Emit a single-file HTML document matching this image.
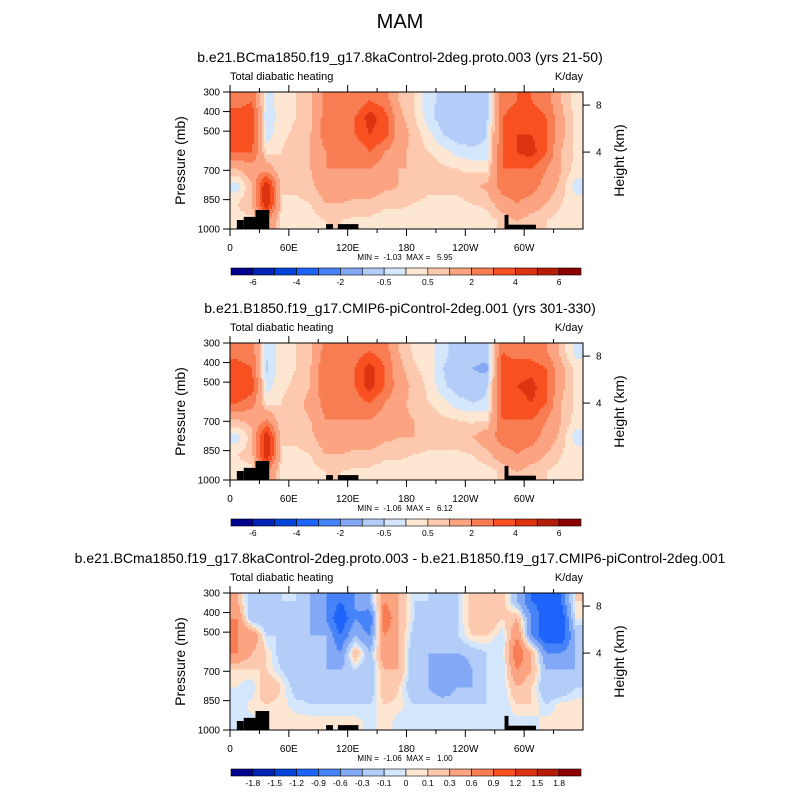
<!DOCTYPE html>
<html><head><meta charset="utf-8"><style>
body{margin:0;background:#fff}
svg{display:block;font-family:"Liberation Sans",sans-serif}
</style></head><body>
<svg id="fig" width="800" height="800" viewBox="0 0 800 800">
<text x="400" y="28" font-size="20" text-anchor="middle">MAM</text>
</svg>
<script>
// ---- data ----
const lonCenters=[7.5,22.5,37.5,52.5,67.5,82.5,97.5,112.5,127.5,142.5,157.5,172.5,187.5,202.5,217.5,232.5,247.5,262.5,277.5,292.5,307.5,322.5,337.5,352.5];
const presCenters=[343.75,431.25,518.75,606.25,693.75,781.25,868.75,956.25];
const levelsAbs=[-6,-5,-4,-3,-2,-1,-0.5,0,0.5,1,2,3,4,5,6];
const labelsAbs=["-6","-4","-2","-0.5","0.5","2","4","6"];
const levelsDiff=[-1.8,-1.5,-1.2,-0.9,-0.6,-0.3,-0.1,0,0.1,0.3,0.6,0.9,1.2,1.5,1.8];
const labelsDiff=["-1.8","-1.5","-1.2","-0.9","-0.6","-0.3","-0.1","0","0.1","0.3","0.6","0.9","1.2","1.5","1.8"];
const xTickVals=[0,60,120,180,240,300];
const xTickLabels=["0","60E","120E","180","120W","60W"];
const pTickVals=[300,400,500,700,850,1000];
const hTickVals=[8,4];
const hTickPres=[367,607];
const field1=[
[2.5,3,-0.3,0.3,0.5,0.8,2.5,2.5,2,3,2.5,1,0.5,-0.3,-0.7,-0.8,-0.8,-0.6,2.5,3,3,2.5,1,0.3],
[3.5,3.5,-0.5,0.3,0.5,0.8,2.5,2,3,4.5,3.5,1.2,0.6,-0.3,-0.8,-0.9,-0.9,-0.6,3,3.5,3.5,3,1.2,0.3],
[4,3.5,-0.3,0.4,0.6,1,2.5,2,3,4,3.5,1.5,0.8,0.2,-0.5,-0.8,-0.8,-0.5,3,4,4,3,1.2,0.4],
[3,3,0.3,0.5,0.7,1,2,2,2,3,2,1.2,0.8,0.5,0.2,-0.2,-0.4,-0.3,3,4,4.5,3,1,0.4],
[1,1.5,1.5,0.5,0.8,1,2,2,2,2,1.5,1,1,0.8,0.6,0.5,0.4,0.3,3,3,3,2,1,0.3],
[-0.3,1,5,0.5,0.6,0.8,1.5,1.5,1.5,1.5,1.2,1,0.8,0.6,0.6,0.6,0.8,1.2,2.5,2.5,2.5,1.5,0.8,-0.3],
[0.5,1,5,0.5,0.4,0.5,1,1,0.8,0.8,0.6,0.6,0.5,0.4,0.4,0.4,0.5,0.6,1.5,2,1.5,1,0.5,0.3],
[0.3,0.3,2,0.4,0.3,0.3,0.5,0.5,0.4,0.4,0.3,0.3,0.3,0.3,0.3,0.3,0.3,0.3,0.6,1,0.6,0.5,0.3,0.3]];
const field2=[
[2.5,2.5,-0.4,0.3,0.5,0.8,2.5,2.5,2.5,3,2.5,1,0.4,0.2,-0.3,-0.8,-0.8,-0.6,3,2.5,2.5,2,0.8,-0.2],
[3.5,3,-0.6,0.3,0.5,1,3,2.5,3,4.5,3,1.2,0.6,0.3,-0.5,-0.9,-1,-1.2,3.5,3.5,3.5,3,1.2,0.3],
[4,3.5,-0.3,0.4,0.6,1,3,2.5,3,4.5,3,1.5,0.8,0.4,-0.4,-0.8,-0.8,-0.6,3.5,4,4.5,3,1.2,0.4],
[3,2.5,0.3,0.5,0.8,1.2,2.5,2.5,2.5,3,2,1.2,0.8,0.5,0.2,-0.3,-0.5,-0.4,3.5,3.5,4,3,1,0.4],
[1,1.2,2,0.5,0.8,1,2,2,2,2,1.5,1.2,1,0.8,0.6,0.5,0.4,0.4,3,3,3,2,1,0.3],
[-0.3,0.8,5,0.5,0.6,0.8,1.5,1.5,1.5,1.5,1.2,1,1,0.8,0.8,0.8,1,1.5,2.5,2.5,2.5,1.5,0.8,-0.3],
[0.5,0.8,5,0.5,0.4,0.5,1,1,0.8,0.8,0.6,0.6,0.5,0.4,0.4,0.4,0.5,0.8,1.5,2,1.5,1,0.5,0.3],
[0.3,0.3,2,0.4,0.3,0.3,0.5,0.5,0.4,0.4,0.3,0.3,0.3,0.3,0.3,0.3,0.3,0.3,0.6,1,0.6,0.5,0.3,0.3]];
const field3=[
[0.3,-0.3,-0.3,-0.1,-0.1,-0.3,-0.6,-0.9,-0.6,-0.3,0.6,0.3,-0.1,-0.1,-0.2,-0.1,0.2,0.3,0.2,-0.3,-0.9,-1.0,-0.9,0.1],
[0.6,-0.3,-0.3,-0.1,-0.2,-0.3,-0.6,-1.2,-0.6,-0.9,0.9,0.3,-0.1,-0.2,-0.2,-0.1,0.2,0.3,0.1,0.3,-0.6,-1.2,-1.2,0],
[0.6,0.6,-0.1,-0.1,-0.2,-0.3,-0.3,-0.9,-0.3,-0.6,0.6,0.3,-0.2,-0.2,-0.3,-0.1,0.1,0.1,-0.1,0.6,-0.6,-1.2,-1.2,-0.3],
[0.6,0.3,0.1,-0.2,-0.3,-0.3,-0.3,-0.6,0.3,-0.3,0.6,0.3,-0.3,-0.3,-0.3,-0.3,-0.2,-0.1,-0.1,0.9,0.3,-0.6,-0.6,-0.3],
[0.1,0.1,0.1,-0.1,-0.3,-0.3,-0.3,-0.3,-0.1,-0.3,0.3,0.3,-0.3,-0.3,-0.6,-0.6,-0.3,-0.1,-0.1,0.6,0.3,-0.3,-0.3,-0.3],
[0,-0.1,0.3,0.1,-0.2,-0.2,-0.3,-0.3,-0.2,-0.3,0.3,0.1,-0.3,-0.3,-0.6,-0.3,-0.3,-0.1,-0.1,0.3,0.1,-0.3,-0.3,-0.1],
[-0.1,0.05,0.1,0.05,-0.05,-0.1,-0.1,-0.1,-0.1,-0.1,0.1,0.05,-0.1,-0.1,-0.1,-0.1,-0.1,-0.1,-0.1,0.1,0.1,-0.1,0.05,0.05],
[-0.05,-0.05,0.05,0.05,0.05,0.05,0.05,0.05,0.05,-0.05,0.05,-0.05,-0.05,-0.05,-0.05,-0.05,-0.05,-0.05,-0.05,-0.05,-0.05,0.05,0.05,0.05]];
// topography: [lonStart, lonEnd, topPressure]
const topoLon0=[7,14,26,98,110,280,284];
const topoLon1=[14,26,40,105,131,284,312];
const topoTop=[954,938,903,975,975,928,978];
const palette=["#00008c","#0024b4","#0044dc","#1e64fa","#4682f8","#82a8f6","#b4ccf8","#d4e6fc","#fde6d2","#fcc8ae","#fca482","#f87d52","#f85020","#dc3410","#b41e08","#8c0000"];
const titles=["b.e21.BCma1850.f19_g17.8kaControl-2deg.proto.003 (yrs 21-50)","b.e21.B1850.f19_g17.CMIP6-piControl-2deg.001 (yrs 301-330)","b.e21.BCma1850.f19_g17.8kaControl-2deg.proto.003 - b.e21.B1850.f19_g17.CMIP6-piControl-2deg.001"];
const minmax=["MIN =  -1.03  MAX =   5.95","MIN =  -1.06  MAX =   6.12","MIN =  -1.06  MAX =   1.00"];

// ---- drawing ----
const NS="http://www.w3.org/2000/svg";
const svg=document.getElementById('fig');
function mk(tag,attrs,parent,txt){const e=document.createElementNS(NS,tag);for(const k in attrs)e.setAttribute(k,attrs[k]);if(txt!==undefined)e.textContent=txt;(parent||svg).appendChild(e);return e;}
const X0=230,X1=583,PH=137;
const xs=lon=>X0+(lon/360)*(X1-X0);
function colorIdx(v,lev){let i=0;while(i<lev.length&&v>=lev[i])i++;return i;}
function sample(f,lon,p){
  let fx=(lon-7.5)/15, fy=(p-343.75)/87.5;
  fx=Math.max(0,Math.min(23,fx)); fy=Math.max(0,Math.min(7,fy));
  const i0=Math.floor(fx),j0=Math.floor(fy),i1=Math.min(23,i0+1),j1=Math.min(7,j0+1);
  const tx=fx-i0,ty=fy-j0;
  return (f[j0][i0]*(1-tx)+f[j0][i1]*tx)*(1-ty)+(f[j1][i0]*(1-tx)+f[j1][i1]*tx)*ty;
}
const panels=[{f:field1,lev:levelsAbs,lab:labelsAbs,y0:92,tY:62},{f:field2,lev:levelsAbs,lab:labelsAbs,y0:343,tY:313},{f:field3,lev:levelsDiff,lab:labelsDiff,y0:593,tY:563}];
panels.forEach((P,pi)=>{
  const g=mk('g',{});
  
  
  const ys=p=>P.y0+(p-300)/700*PH;
  mk('text',{x:400,y:P.tY,'font-size':14,'text-anchor':'middle',},g,titles[pi]);
  mk('text',{x:X0,y:P.y0-12,'font-size':11,},g,"Total diabatic heating");
  mk('text',{x:X1,y:P.y0-12,'font-size':11,'text-anchor':'end',},g,"K/day");
  const fg=mk('g',{'shape-rendering':'crispEdges'},g);
  
  
  const NC=176,NR=68;
  const cw=353/NC,ch=PH/NR;
  for(let r=0;r<NR;r++){
    const p=300+(r+0.5)/NR*700;
    let start=0,cur=-1;
    for(let c=0;c<=NC;c++){
      const ci=c<NC?colorIdx(sample(P.f,(c+0.5)/NC*360,p),P.lev):-2;
      if(ci!==cur){
        if(cur>=0){mk('rect',{x:X0+start*cw,y:P.y0+r*ch,width:(c-start)*cw+0.3,height:ch+0.3,fill:palette[cur]},fg);}
        cur=ci;start=c;
      }
    }
  }
  for(let k=0;k<topoLon0.length;k++){
    const t=mk('rect',{x:xs(topoLon0[k]),y:ys(topoTop[k]),width:xs(topoLon1[k])-xs(topoLon0[k]),height:ys(1000)-ys(topoTop[k]),fill:'#000'},g);
    
    
  }
  mk('rect',{x:X0,y:P.y0,width:X1-X0,height:PH,fill:'none',stroke:'#000','stroke-width':1,},g);
  for(let l=0;l<360;l+=30){
    const major=l%60===0,len=major?7:4;
    mk('line',{x1:xs(l),x2:xs(l),y1:P.y0+PH,y2:P.y0+PH+len,stroke:'#000'},g);
    mk('line',{x1:xs(l),x2:xs(l),y1:P.y0,y2:P.y0-len,stroke:'#000'},g);
  }
  xTickVals.forEach((v,i)=>{
    const t=mk('text',{x:xs(v),y:P.y0+PH+22,'font-size':10,'text-anchor':'middle'},g,xTickLabels[i]);
    
    
  });
  pTickVals.forEach(v=>{
    mk('line',{x1:X0-7,x2:X0,y1:ys(v),y2:ys(v),stroke:'#000'},g);
    const t=mk('text',{x:X0-10,y:ys(v)+3.5,'font-size':10,'text-anchor':'end'},g,String(v));
    
    
  });
  hTickVals.forEach((v,i)=>{
    mk('line',{x1:X1,x2:X1+7,y1:ys(hTickPres[i]),y2:ys(hTickPres[i]),stroke:'#000'},g);
    const t=mk('text',{x:X1+13,y:ys(hTickPres[i])+3.5,'font-size':10},g,String(v));
    
    
  });
  const cy=P.y0+PH/2;
  mk('text',{x:185,y:cy,'font-size':14,'text-anchor':'middle',transform:`rotate(-90 185 ${cy})`,},g,"Pressure (mb)");
  mk('text',{x:624,y:cy,'font-size':14,'text-anchor':'middle',transform:`rotate(-90 624 ${cy})`,},g,"Height (km)");
  mk('text',{x:405,y:P.y0+PH+31,'font-size':8,'text-anchor':'middle','xml:space':'preserve',style:'white-space:pre',},g,minmax[pi]);
  const cb=mk('g',{},g);
  
  
  const by=P.y0+176,bw=350/16;
  palette.forEach((c,i)=>{mk('rect',{x:231+i*bw,y:by,width:bw,height:7,fill:c,stroke:'#000','stroke-width':0.6},cb);});
  P.lab.forEach((lb,i)=>{
    const bi=P.lab.length===8?(2*i+1):(i+1);
    const t=mk('text',{x:231+bi*bw,y:by+17,'font-size':8.5,'text-anchor':'middle'},cb,lb);
    
    
  });
});
</script>
</body></html>
